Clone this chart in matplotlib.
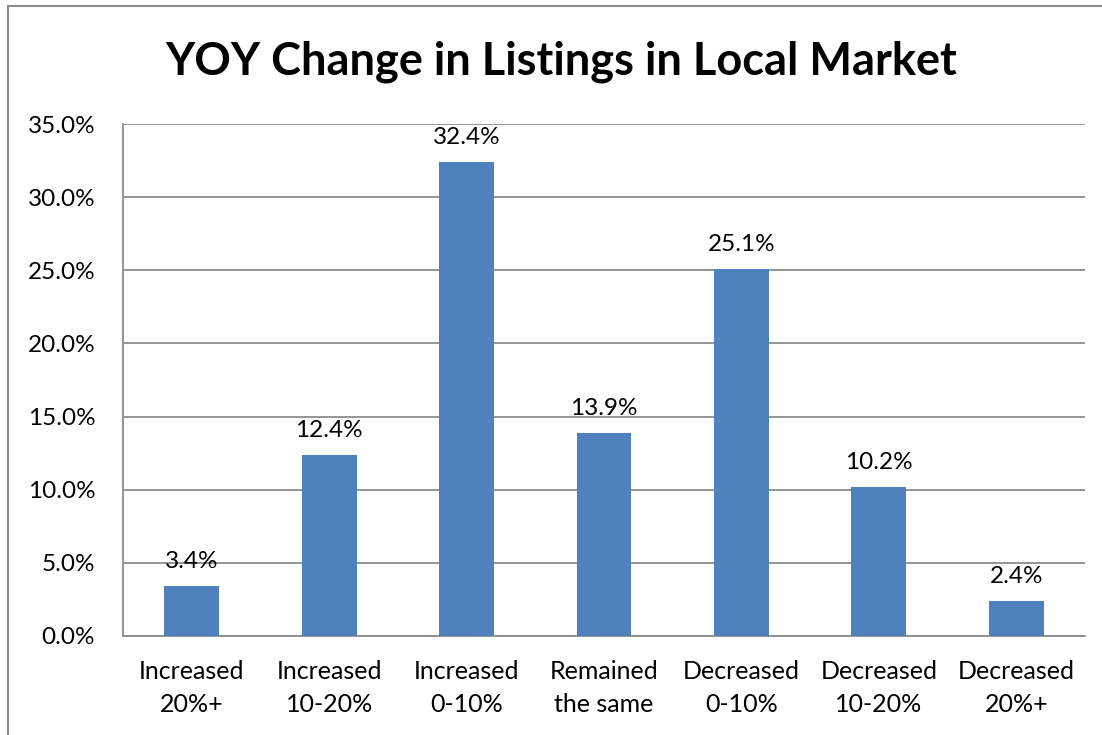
import matplotlib
matplotlib.use("Agg")
import matplotlib.pyplot as plt
from matplotlib.patches import Rectangle
from matplotlib.ticker import FuncFormatter

categories = ["Increased\n20%+", "Increased\n10-20%", "Increased\n0-10%", "Remained\nthe same",
              "Decreased\n0-10%", "Decreased\n10-20%", "Decreased\n20%+"]
values = [3.4, 12.4, 32.4, 13.9, 25.1, 10.2, 2.4]
title = "YOY Change in Listings in Local Market"

plt.rcParams['font.family'] = ['Lato', 'DejaVu Sans']

W, H = 1102, 735
fig = plt.figure(figsize=(W / 100, H / 100), dpi=100)
fig.patch.set_facecolor('white')
fig.patches.append(Rectangle((8 / W, -0.1), 1.2, 1 - 6 / H + 0.1, transform=fig.transFigure,
                             fill=False, edgecolor='#8c8c8c', linewidth=1.5))

ax = fig.add_axes([123 / W, 1 - 636 / H, (1085 - 123) / W, (636 - 124) / H])
x = range(len(categories))
ax.bar(x, values, width=0.4, color='#4F81BD', zorder=3)
ax.set_xlim(-0.5, len(categories) - 0.5)
ax.set_ylim(0, 35)
ax.set_yticks([0, 5, 10, 15, 20, 25, 30, 35])
ax.yaxis.set_major_formatter(FuncFormatter(lambda v, p: f"{v:.1f}%"))
ax.set_xticks(list(x))
ax.set_xticklabels(categories, fontsize=18, linespacing=1.55)
ax.tick_params(axis='y', labelsize=17.5, length=0, pad=20)
ax.tick_params(axis='x', length=0, pad=17)
ax.grid(axis='y', color='#8c8c8c', linewidth=1.3, zorder=0)
for s in ['top', 'right']:
    ax.spines[s].set_visible(False)
for s in ['left', 'bottom']:
    ax.spines[s].set_color('#8c8c8c')
    ax.spines[s].set_linewidth(1.3)

for xi, v in zip(x, values):
    ax.annotate(f"{v:.1f}%", (xi, v), xytext=(0, 10), textcoords='offset points',
                ha='center', va='bottom', fontsize=17.5, zorder=4)

fig.text(561 / W, 1 - 62 / H, title, ha='center', va='center', fontsize=32.5, fontweight='bold')

fig.savefig("out.png", dpi=100)
